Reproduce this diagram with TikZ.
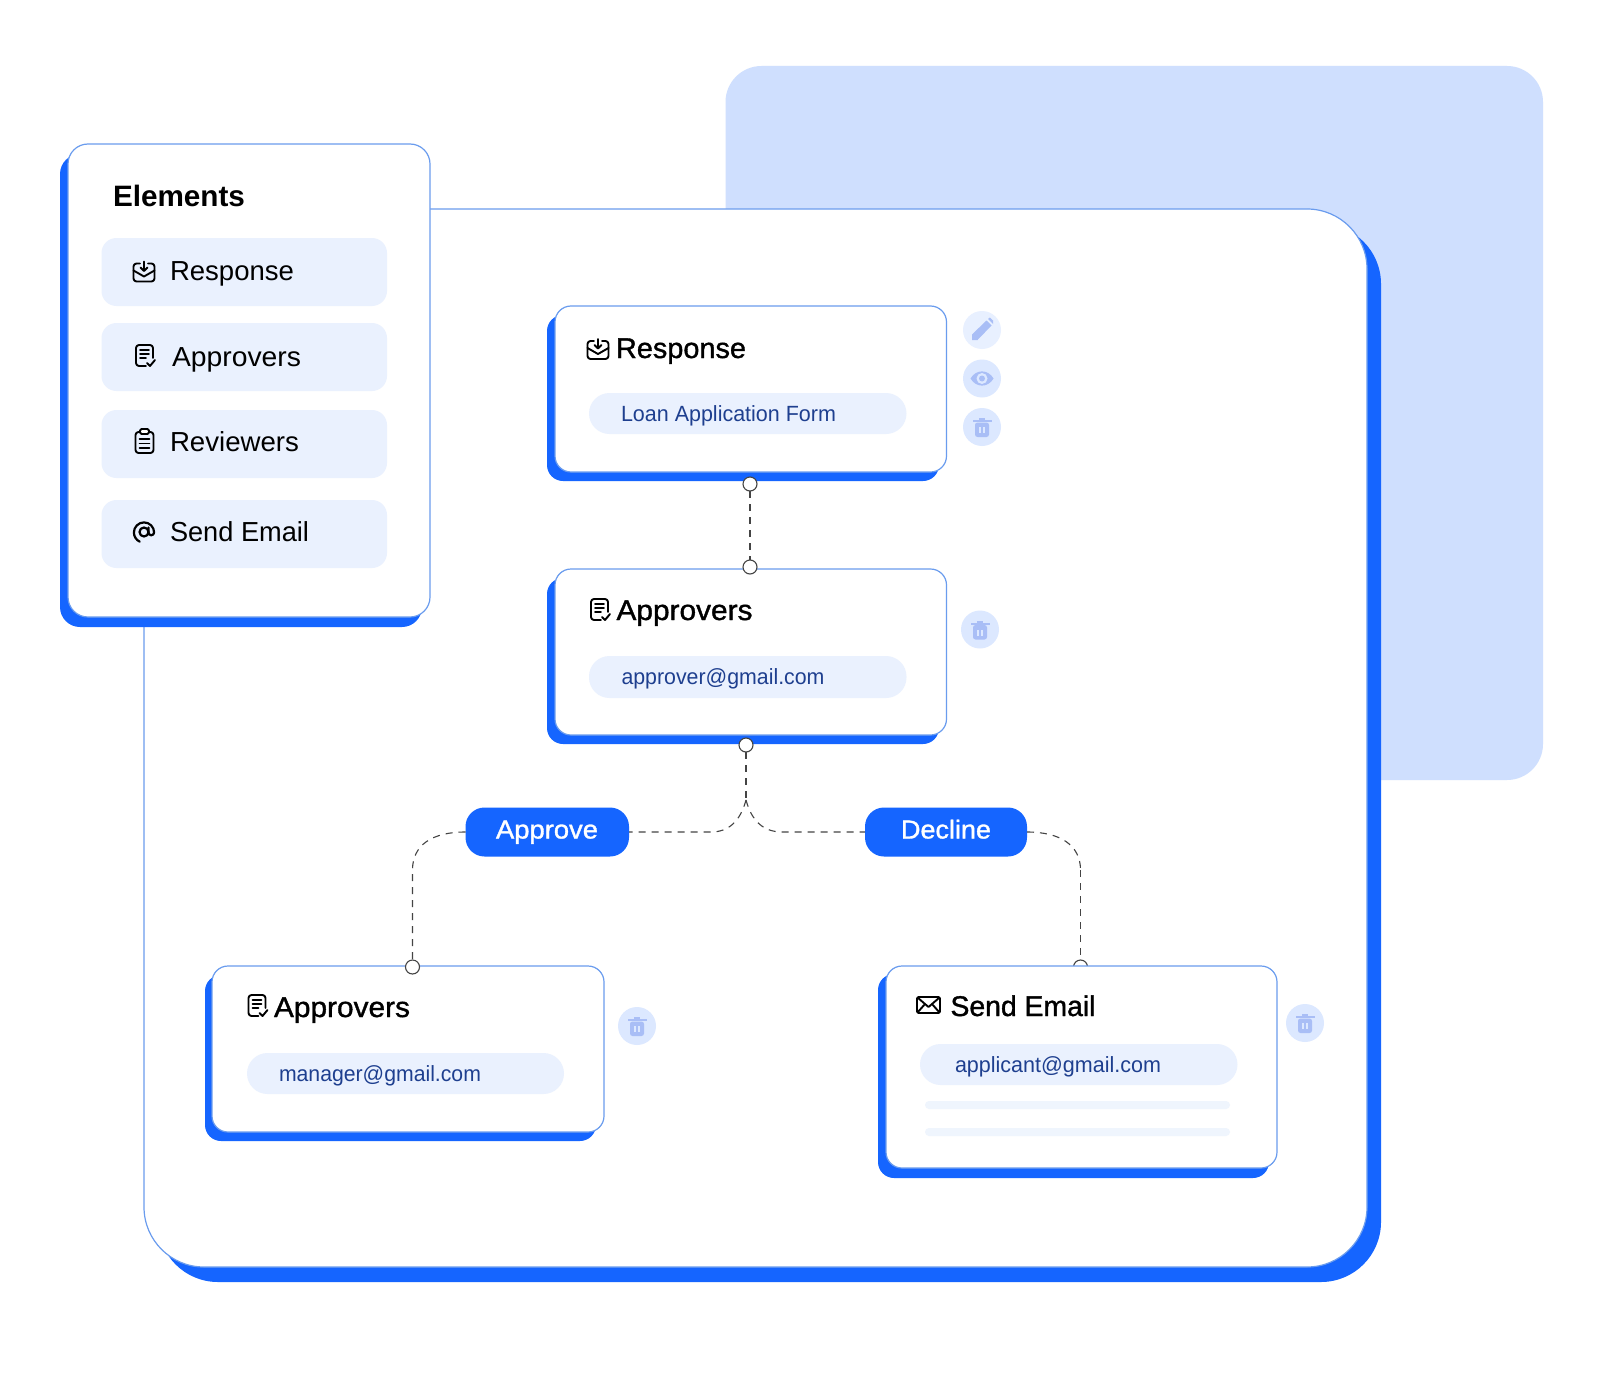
\documentclass[tikz,border=0pt]{standalone}
\usepackage{fontspec}
\usepackage{graphicx}
\usetikzlibrary{fit}
\setmainfont{Liberation Sans}
\newfontfamily\medfont[FakeBold=1.2]{Liberation Sans}
\definecolor{brand}{HTML}{1565FF}
\definecolor{backblue}{HTML}{CFDFFE}
\definecolor{edgeblue}{HTML}{6A9CEE}
\definecolor{softfill}{HTML}{EAF1FE}
\definecolor{stripfill}{HTML}{EFF5FD}
\definecolor{btnfill}{HTML}{DCE8FF}
\definecolor{btnpale}{HTML}{E8F0FF}
\definecolor{btnicon}{HTML}{A9BEF6}
\definecolor{pilltext}{HTML}{1E3F8F}
\definecolor{linegray}{HTML}{444444}
\newcommand{\tw}[2]{\resizebox{#1pt}{\height}{#2}}
\newcommand{\fs}[1]{\fontsize{#1}{#1}\selectfont}
\tikzset{
  fitbox/.style={inner sep=0pt,outer sep=0pt,rectangle},
  cardface/.style={fitbox,draw=edgeblue,line width=1.2pt,fill=white,rounded corners=16pt},
  cardshade/.style={fitbox,fill=brand,rounded corners=16pt},
  softpill/.style={fitbox,fill=softfill,rounded corners=20.5pt},
  itembox/.style={fitbox,fill=softfill,rounded corners=15pt},
  strip/.style={fitbox,fill=stripfill,rounded corners=4pt},
  decision/.style={fitbox,fill=brand,rounded corners=19pt},
  lbl/.style={anchor=base west,inner sep=0pt,outer sep=0pt,text=black},
  itemtext/.style={lbl,font=\fs{27.5}},
  titletext/.style={lbl,font=\medfont\fs{28.5}},
  pilltxt/.style={lbl,text=pilltext,font=\fs{22}},
  dectext/.style={lbl,text=white,font=\medfont\fs{26}},
  dot/.style={circle,draw=linegray,line width=1.1pt,fill=white,minimum size=14pt,inner sep=0pt,outer sep=0pt},
  btn/.style={circle,fill=btnfill,minimum size=38pt,inner sep=0pt},
  conn/.style={draw=linegray,line width=1.1pt,dash pattern=on 7pt off 6pt},
  ico/.style={draw=black,line width=1.9pt,line join=round,line cap=round},
  inboxicon/.pic={
    \draw[ico,rounded corners=3pt] (-4,-8)--(-10.5,-8)--(-10.5,10)--(10.5,10)--(10.5,-8)--(4,-8);
    \draw[ico] (0,-10)--(0,-1);
    \draw[ico] (-3.5,-4)--(0,-0.5)--(3.5,-4);
    \draw[ico] (-10.5,-1)--(0,5)--(10.5,-1);
  },
  docicon/.pic={
    \draw[ico,rounded corners=3pt] (1,10)--(-9,10)--(-9,-11)--(8,-11)--(8,2);
    \draw[ico] (-5,-6)--(4,-6) (-5,-2)--(4,-2) (-5,2)--(1,2);
    \draw[ico] (2,7)--(5,10)--(10,4);
  },
  clipicon/.pic={
    \draw[ico,rounded corners=3pt] (-9,-9)--(-9,12)--(9,12)--(9,-9)--cycle;
    \draw[ico,fill=white,rounded corners=1.5pt] (-4.5,-12)--(4.5,-12)--(4.5,-7)--(-4.5,-7)--cycle;
    \draw[ico,line width=1.6pt] (-5,-2)--(5,-2) (-5,2.5)--(5,2.5) (-5,7)--(5,7);
  },
  aticon/.pic={
    \draw[ico,line width=2.2pt] (0,0) circle (4.5);
    \draw[ico,line width=2.2pt] (4.5,-4.5)--(4.5,0.5) arc[start angle=180,end angle=0,radius=2.8] arc[start angle=0,end angle=-245,radius=10.1];
  },
  mailicon/.pic={
    \draw[ico,rounded corners=1.5pt] (-11.5,-8)--(11.5,-8)--(11.5,8)--(-11.5,8)--cycle;
    \draw[ico] (-11,-7.5)--(0,2)--(11,-7.5) (-11,7.5)--(-3.5,-1) (11,7.5)--(3.5,-1);
  },
  trashicon/.pic={
    \fill[btnicon,rounded corners=2.5pt] (-7,-5)--(7,-5)--(7,9.5)--(-7,9.5)--cycle;
    \fill[btnicon] (-9.5,-7.5) rectangle (9.5,-5.5);
    \fill[btnicon] (-3,-9.5) rectangle (3,-7.5);
    \fill[btnfill] (-3,-0.5) rectangle (-1.2,5.5);
    \fill[btnfill] (1.2,-0.5) rectangle (3,5.5);
  },
  eyeicon/.pic={
    \fill[btnicon] (-11.5,0) .. controls (-6,-9.5) and (6,-9.5) .. (11.5,0) .. controls (6,9.5) and (-6,9.5) .. (-11.5,0);
    \fill[btnfill] (0,0) circle (5.5);
    \fill[btnicon] (0,0) circle (3);
  },
  penicon/.pic={
    \fill[btnicon,line join=round] (-10,10)--(-10,4.5)--(4.5,-9.5)--(9.5,-4.5)--(-4.5,10)--cycle;
    \fill[btnicon] (6,-11)--(7.8,-12.5)--(11,-9.5)--(11,-6)--cycle;
  }
}
\begin{document}
\begin{tikzpicture}[x=1pt,y=-1pt]
\useasboundingbox (0,0) rectangle (1600,1399);
\fill[white] (0,0) rectangle (1600,1399);

% back panel and main board
\node[fitbox,fill=backblue,rounded corners=36pt,fit={(725.5,66)(1543,780)}] (back) {};
\node[fitbox,fill=brand,rounded corners=60pt,fit={(158,224)(1381,1282)}] (boardshade) {};
\node[fitbox,draw=edgeblue,line width=1.2pt,fill=white,rounded corners=60pt,fit={(144,209)(1367,1267)}] (board) {};

% Elements panel
\node[fitbox,fill=brand,rounded corners=20pt,fit={(60,154)(422,627)}] (elshade) {};
\node[fitbox,draw=edgeblue,line width=1.2pt,fill=white,rounded corners=20pt,fit={(68,144)(430,617)}] (elpanel) {};
\node[lbl,font=\bfseries\fs{29.5}] (eltitle) at (113,207) {\tw{132}{Elements}};
\node[itembox,fit={(101.5,238)(387,306)}] (item1) {};
\node[itembox,fit={(101.5,323)(387,391)}] (item2) {};
\node[itembox,fit={(101.5,410)(387,478)}] (item3) {};
\node[itembox,fit={(101.5,500)(387,568)}] (item4) {};
\node[itemtext] (item1t) at (170,280) {\tw{124}{Response}};
\node[itemtext] (item2t) at (172,366) {\tw{129}{Approvers}};
\node[itemtext] (item3t) at (170,451) {\tw{129}{Reviewers}};
\node[itemtext] (item4t) at (170,541) {\tw{139}{Send Email}};
\pic at (144,271.5) {inboxicon};
\pic at (145,356) {docicon};
\pic at (144.5,441) {clipicon};
\pic at (144,532) {aticon};

% connector end that sits behind the Send Email card
\node[dot] (d5) at (1080.5,967) {};
\coordinate (dropR) at (1080.5,870);
\draw[conn] (dropR) -- (d5);

% cards
\node[cardshade,fit={(547,315)(939,481)}] (c1s) {};
\node[cardface,fit={(555,306)(946.5,472)}] (c1) {};
\node[softpill,fit={(589,393)(906.5,434)}] (c1p) {};
\node[titletext] (c1t) at (616,358) {\tw{130}{Response}};
\node[pilltxt] (c1e) at (621,421) {\tw{215}{Loan Application Form}};
\pic at (598,349) {inboxicon};

\node[cardshade,fit={(547,578)(939,744)}] (c2s) {};
\node[cardface,fit={(555,569)(946.5,735)}] (c2) {};
\node[softpill,fit={(589,656)(906.5,698)}] (c2p) {};
\node[titletext] (c2t) at (616.5,620) {\tw{136}{Approvers}};
\node[pilltxt] (c2e) at (621.5,684) {\tw{203}{approver@gmail.com}};
\pic at (600,610) {docicon};

\node[cardshade,fit={(205,975)(596,1141)}] (c3s) {};
\node[cardface,fit={(212,966)(604,1132)}] (c3) {};
\node[softpill,fit={(247,1053)(564,1094)}] (c3p) {};
\node[titletext] (c3t) at (274,1017) {\tw{136}{Approvers}};
\node[pilltxt] (c3e) at (279,1081) {\tw{202}{manager@gmail.com}};
\pic at (257.5,1006) {docicon};

\node[cardshade,fit={(878,974)(1269,1178)}] (c4s) {};
\node[cardface,fit={(886,966)(1277,1168)}] (c4) {};
\node[softpill,fit={(920,1044)(1237.5,1085)}] (c4p) {};
\node[titletext] (c4t) at (950.5,1016) {\tw{145}{Send Email}};
\node[pilltxt] (c4e) at (955,1072) {\tw{206}{applicant@gmail.com}};
\node[strip,fit={(925,1101)(1230,1109)}] (c4a) {};
\node[strip,fit={(925,1128)(1230,1136)}] (c4b) {};
\pic at (928.5,1005) {mailicon};

% action buttons
\node[btn,fill=btnpale] (b1) at (982,330) {};
\node[btn] (b2) at (982,378.5) {};
\node[btn] (b3) at (982,427) {};
\node[btn] (b4) at (980,629.5) {};
\node[btn] (b5) at (637,1026) {};
\node[btn] (b6) at (1305,1023) {};
\pic at (982,330) {penicon};
\pic at (982,378.5) {eyeicon};
\pic at (982,427.5) {trashicon};
\pic at (980,630) {trashicon};
\pic at (637,1026.5) {trashicon};
\pic at (1305,1023.5) {trashicon};

% decisions
\node[decision,fit={(465.5,807.5)(629,856.5)}] (approve) {};
\node[decision,fit={(865,807.5)(1027,856.5)}] (decline) {};
\node[dectext] (approvet) at (496,838.5) {\tw{102}{Approve}};
\node[dectext] (declinet) at (901,838.5) {\tw{90}{Decline}};

% dots
\node[dot] (d1) at (750,484) {};
\node[dot] (d2) at (750,567) {};
\node[dot] (d3) at (746,745) {};
\node[dot] (d4) at (412.5,967) {};

% connector way points
\coordinate (fork) at (746,800);
\coordinate (forkL) at (711,832);
\coordinate (forkR) at (782.5,832);
\coordinate (dropL) at (412.5,870);

% connectors
\draw[conn] (d1) -- (d2);
\draw[conn] (d3) -- (fork);
\draw[conn] (fork) .. controls (740,822) and (728,832) .. (forkL) -- (approve.east);
\draw[conn] (fork) .. controls (752,822) and (764,832) .. (forkR) -- (decline.west);
\draw[conn] (approve.west) .. controls (432,832) and (412.5,845) .. (dropL) -- (d4);
\draw[conn] (decline.east) .. controls (1060,832) and (1080.5,845) .. (dropR);
\end{tikzpicture}
\end{document}
